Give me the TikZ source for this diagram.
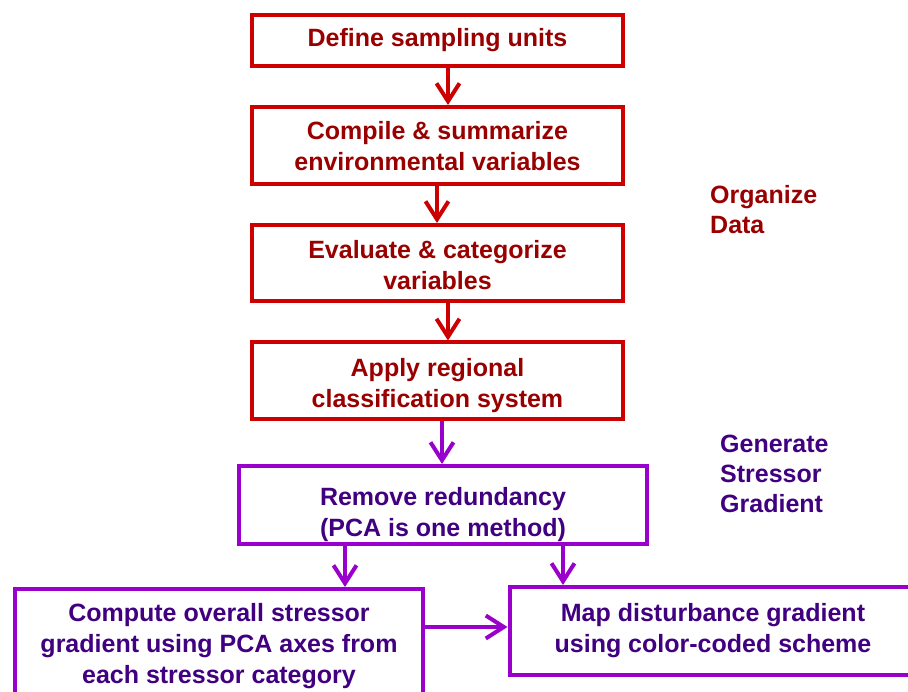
\documentclass[tikz,border=0pt]{standalone}
\usepackage{fontspec}
\setmainfont{Liberation Sans}
\usetikzlibrary{arrows.meta}
\definecolor{redline}{HTML}{CC0000}
\definecolor{redtext}{HTML}{990000}
\definecolor{purpline}{HTML}{9900CC}
\definecolor{purptext}{HTML}{400080}
\tikzset{
  box/.style={draw, line width=4pt, rectangle, inner sep=0pt},
  redbox/.style={box, draw=redline},
  purpbox/.style={box, draw=purpline},
  txt/.style={align=center, inner sep=0pt, text height=18pt, text depth=0pt,
    font=\fontsize{25}{31}\selectfont\bfseries},
  redtxt/.style={txt, text=redtext},
  purptxt/.style={txt, text=purptext},
  arr/.style={line width=4pt, -{Straight Barb[length=18pt,width=23pt,line width=4pt]}},
  redarr/.style={arr, draw=redline},
  purparr/.style={arr, draw=purpline},
  lbl/.style={align=left, anchor=north west, inner sep=0pt, text height=18pt, text depth=0pt,
    font=\fontsize{25}{30}\selectfont\bfseries}
}
\begin{document}
\begin{tikzpicture}[x=1pt,y=-1pt]
\useasboundingbox (0,0) rectangle (908,692);
% boxes
\node[redbox, minimum width=371pt, minimum height=51.5pt] (b1) at (437.5,40.5) {};
\node[redbox, minimum width=371pt, minimum height=77pt] (b2) at (437.5,145.5) {};
\node[redbox, minimum width=371pt, minimum height=76pt] (b3) at (437.5,263) {};
\node[redbox, minimum width=371pt, minimum height=77pt] (b4) at (437.5,381) {};
\node[purpbox, minimum width=408pt, minimum height=78pt] (b5) at (443,505) {};
\node[purpbox, minimum width=408pt, minimum height=114pt] (b6) at (219,646) {};
\node[purpbox, minimum width=411pt, minimum height=88pt] (b7) at (715,631) {};
% texts (node centre = centre of the last line's capitals)
\node[redtxt] (t1) at (437.5,38) {Define sampling units};
\node[redtxt] (t2) at (437.5,162) {Compile \& summarize\\environmental variables};
\node[redtxt] (t3) at (437.5,280.5) {Evaluate \& categorize\\variables};
\node[redtxt] (t4) at (437.5,398.5) {Apply regional\\classification system};
\node[purptxt] (t5) at (443,527.5) {Remove redundancy\\(PCA is one method)};
\node[purptxt] (t6) at (219,674.3) {Compute overall stressor\\gradient using PCA axes from\\each stressor category};
\node[purptxt] (t7) at (713,643.5) {Map disturbance gradient\\using color-coded scheme};
\node[lbl, text=redtext] (org) at (710,215) {Organize\\Data};
\node[lbl, text=purptext] (gen) at (720,494) {Generate\\Stressor\\Gradient};
% arrows
\draw[redarr] (b1.south -| 448,0) -- (b2.north -| 448,0);
\draw[redarr] (b2.south -| 437,0) -- (b3.north -| 437,0);
\draw[redarr] (b3.south -| 448,0) -- (b4.north -| 448,0);
\draw[purparr] (b4.south -| 442,0) -- (b5.north -| 442,0);
\draw[purparr] (b5.south -| 345,0) -- (b6.north -| 345,0);
\draw[purparr] (b5.south -| 563,0) -- (b7.north -| 563,0);
\draw[purparr] (b6.east |- 0,627) -- (b7.west |- 0,627);
\end{tikzpicture}
\end{document}
